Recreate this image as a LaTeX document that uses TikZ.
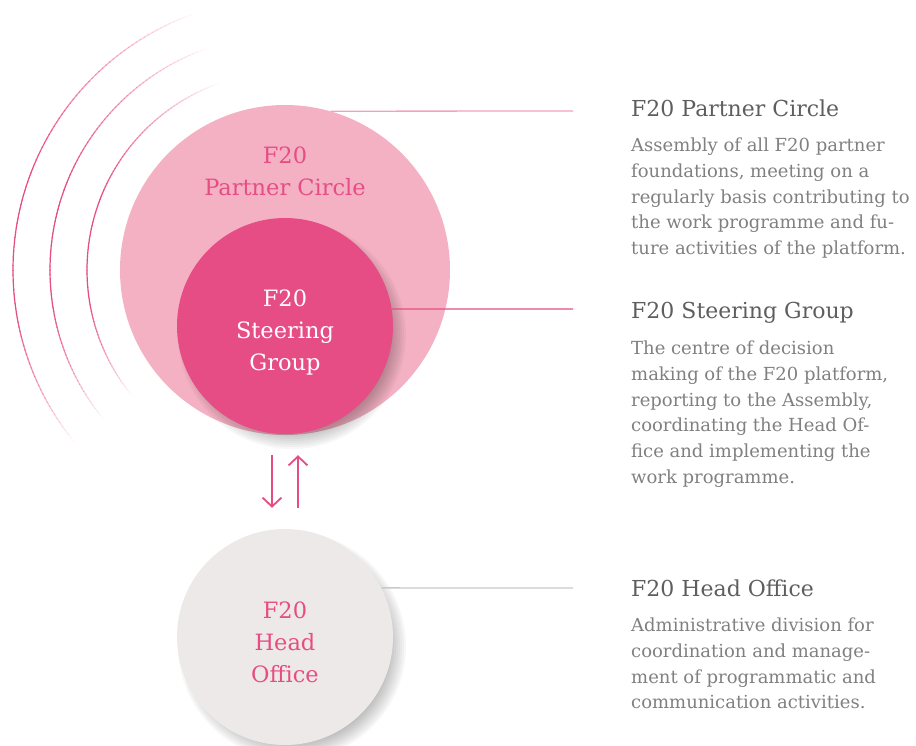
\documentclass[tikz,border=0pt]{standalone}
\usepackage{fontspec}
\setmainfont{DejaVu Serif}
\usetikzlibrary{arrows.meta}
\definecolor{pcircle}{HTML}{F4B1C3}
\definecolor{steerpink}{HTML}{E64D84}
\definecolor{headgrey}{HTML}{EDE9E9}
\definecolor{titlegrey}{HTML}{5E5E5E}
\definecolor{bodygrey}{HTML}{808080}
\definecolor{plinepink}{HTML}{F2A3B9}
\definecolor{hlinegrey}{HTML}{C9C9C9}
\tikzset{
  bubble/.style={circle, inner sep=0pt},
  bubbletext/.style={align=center, font=\fontsize{22.5}{32}\selectfont},
  heading/.style={anchor=base west, inner sep=0pt, text=titlegrey, font=\fontsize{22}{28}\selectfont},
  blurb/.style={anchor=north west, inner sep=0pt, align=left, text=bodygrey, font=\fontsize{18}{25.7}\selectfont},
  updown/.style={steerpink, line width=1.8pt, -{Straight Barb[length=9pt,width=19pt,line width=1.8pt]}}
}
\begin{document}
\begin{tikzpicture}[x=1pt,y=-1pt]
\useasboundingbox (0,0) rectangle (916,745);
% fading arcs
\foreach \r in {272,235,198}
	\foreach \a in {108,...,219} {
		\pgfmathsetmacro\o{max(0,min(1,(\a-108)/50,(219-\a)/30))}
		\draw [steerpink, draw opacity=\o, line width=1.2pt] ({285+\r*cos(\a)},{270-\r*sin(\a)}) arc [start angle=-\a, end angle=-\a-1.2, radius=\r];
	}
% circles
\node [bubble, fill=pcircle, minimum size=330pt] (partner) at (285,270) {};
\node [bubbletext, text=steerpink] (partnerlbl) at (285,171) {F20\\Partner Circle};
\foreach \i in {0,...,9}
	\fill [black, opacity=.03] (292,335) circle [radius=96+2*\i];
\node [bubble, fill=steerpink, minimum size=216pt] (steer) at (285,326) {};
\node [bubbletext, text=white] (steerlbl) at (285,332) {F20\\Steering\\Group};
\foreach \i in {0,...,9}
	\fill [black, opacity=.03] (292,646) circle [radius=96+2*\i];
\node [bubble, fill=headgrey, minimum size=216pt] (head) at (285,637) {};
\node [bubbletext, text=steerpink] (headlbl) at (285,642) {F20\\Head\\Office};
% arrows
\draw [updown, shorten <=21pt, shorten >=21pt] ([xshift=-13pt]steer.south) -- ([xshift=-13pt]head.north);
\draw [updown, shorten <=21pt, shorten >=21pt] ([xshift=13pt]head.north) -- ([xshift=13pt]steer.south);
% leader lines
\coordinate (pend) at (573,111);
\coordinate (send) at (573,309);
\coordinate (hend) at (573,588);
\draw [plinepink, line width=1.3pt] (partner.74.5) -- (pend);
\draw [steerpink, line width=1.3pt] (steer.9) -- (send);
\draw [hlinegrey, line width=1.3pt] (head.27) -- (hend);
% texts
\node [heading] (ptitle) at (631,116) {F20 Partner Circle};
\node [blurb] (ptext) at (631,138) {Assembly of all F20 partner\\foundations, meeting on a\\regularly basis contributing to\\the work programme and fu-\\ture activities of the platform.};
\node [heading] (stitle) at (631,318) {F20 Steering Group};
\node [blurb] (stext) at (631,341) {The centre of decision\\making of the F20 platform,\\reporting to the Assembly,\\coordinating the Head Of-\\fice and implementing the\\work programme.};
\node [heading] (htitle) at (631,596) {F20 Head Office};
\node [blurb] (htext) at (631,618) {Administrative division for\\coordination and manage-\\ment of programmatic and\\communication activities.};
\end{tikzpicture}
\end{document}
